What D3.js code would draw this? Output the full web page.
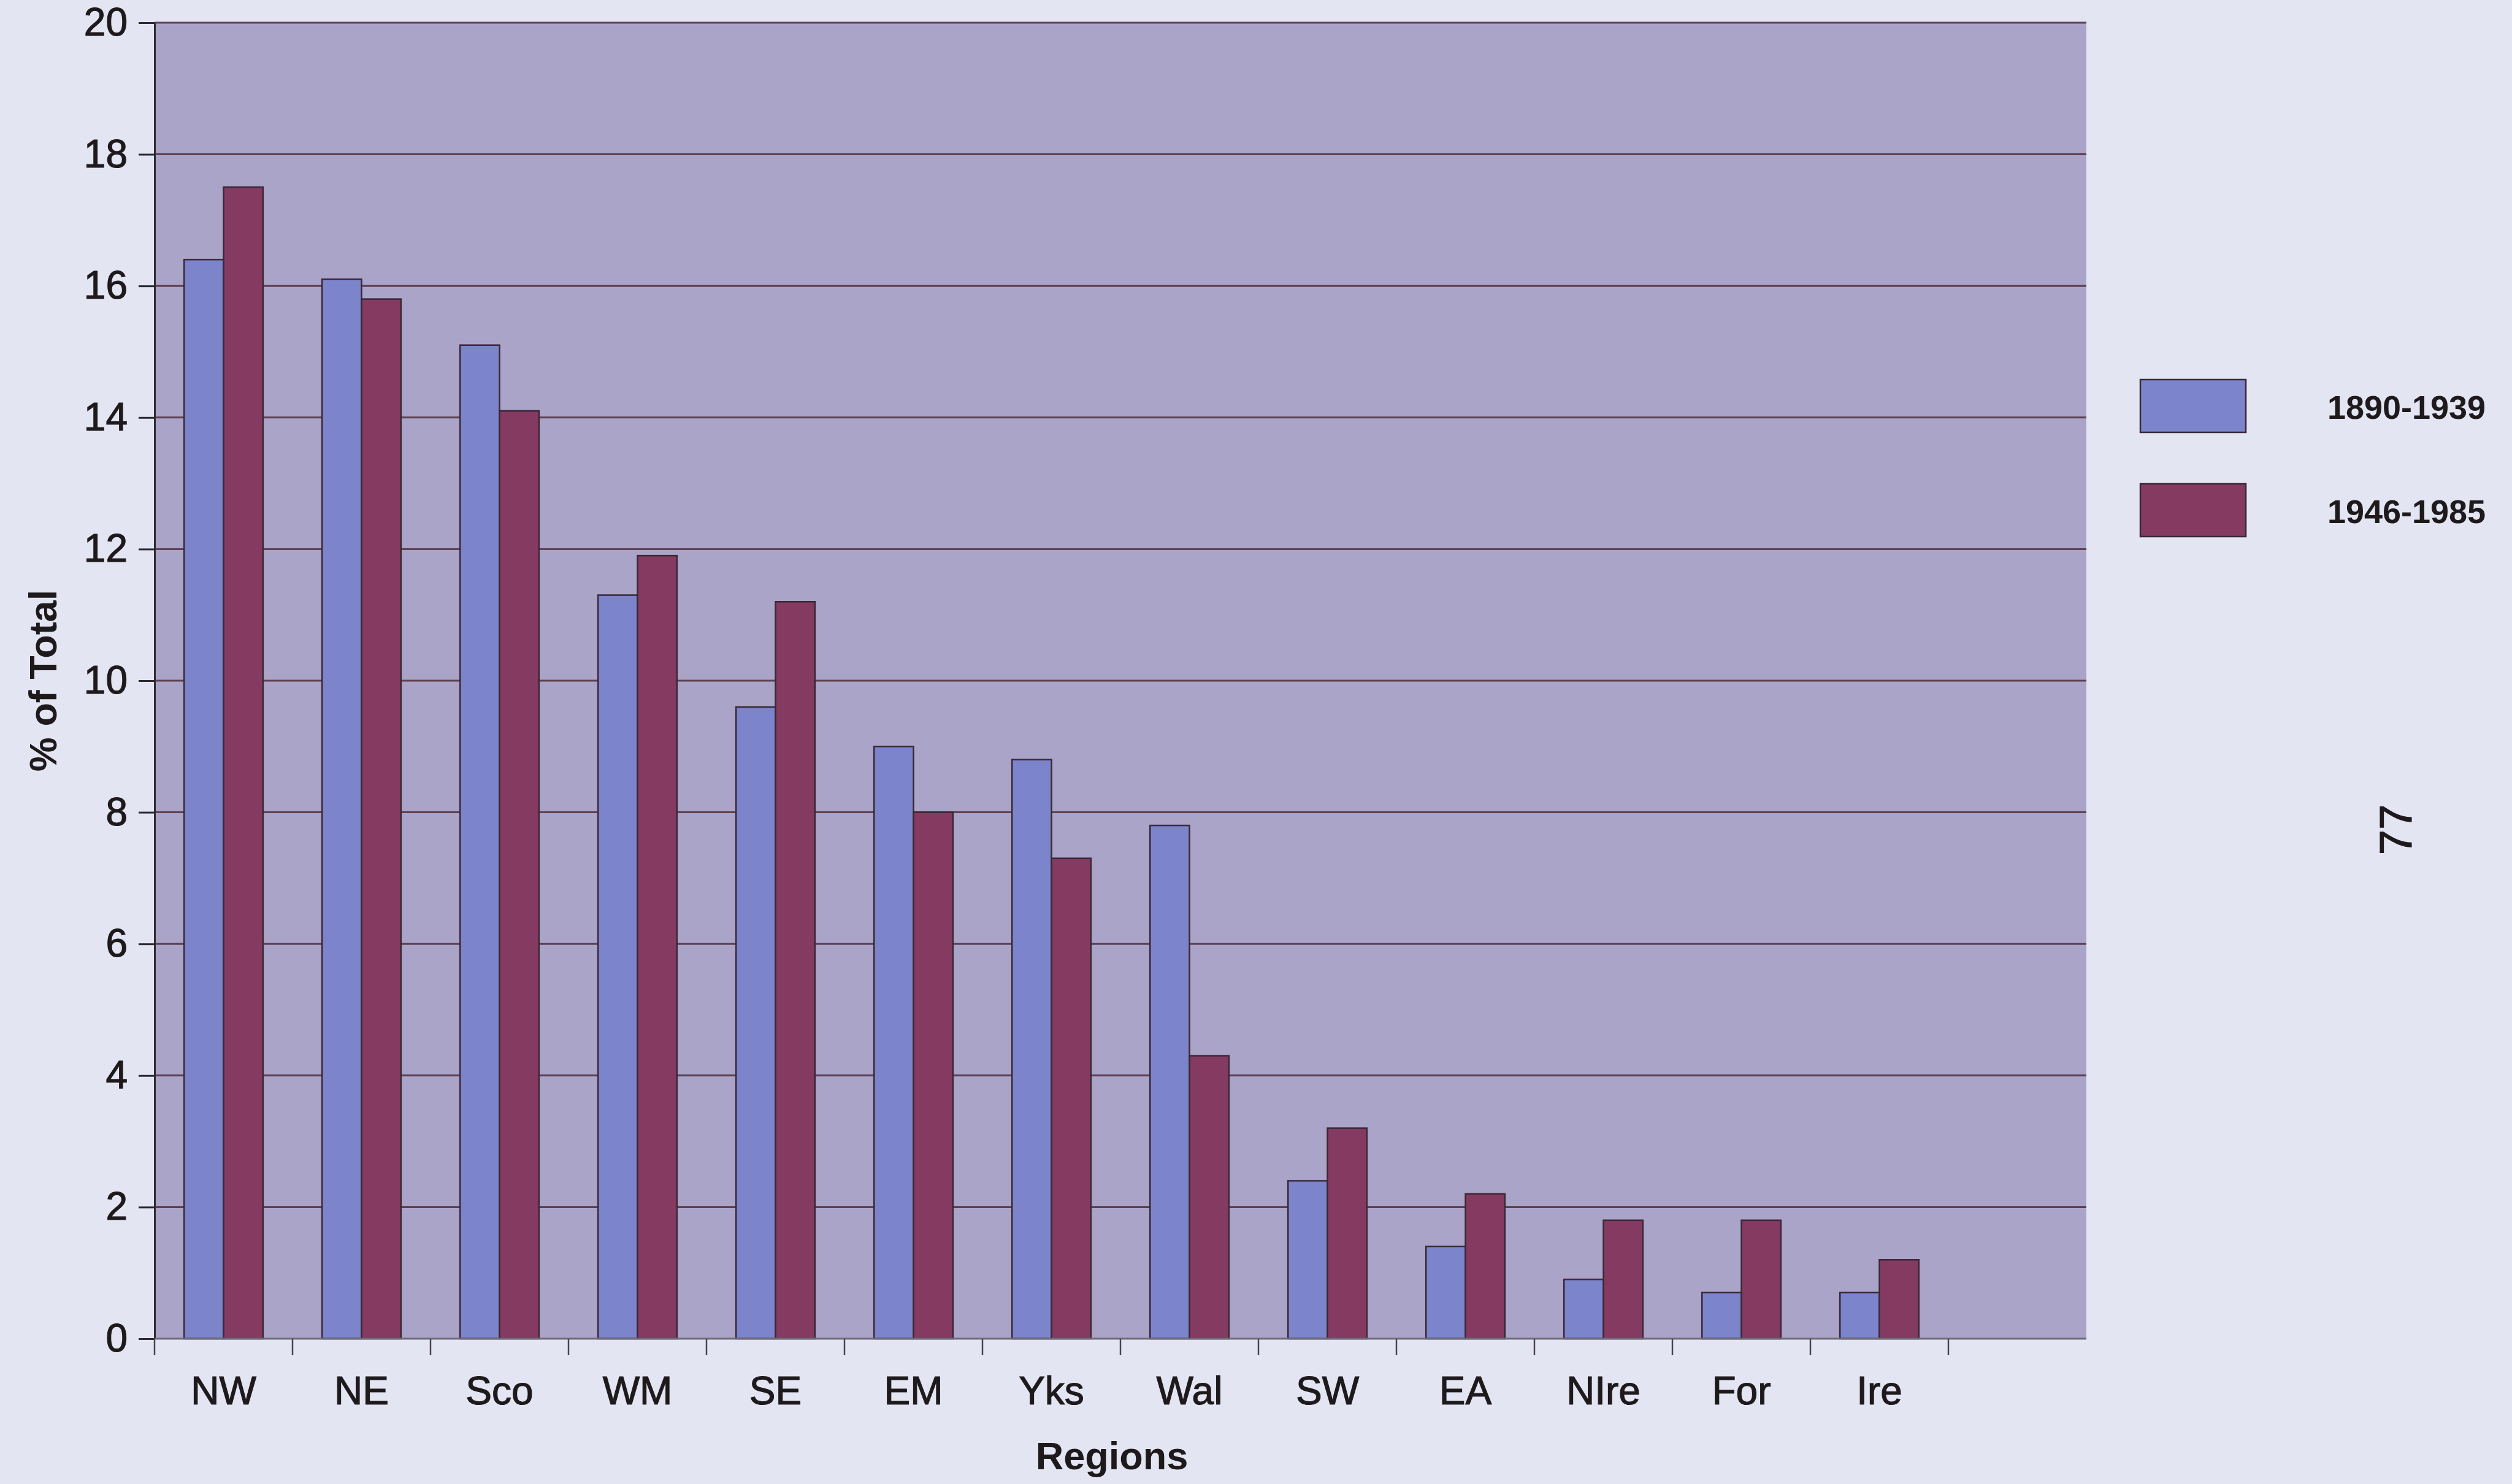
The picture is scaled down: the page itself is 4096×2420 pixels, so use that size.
<!DOCTYPE html>
<html>
<head>
<meta charset="utf-8">
<script src="https://cdn.jsdelivr.net/npm/d3@7"></script>
<style>
  html, body { margin: 0; padding: 0; background: #e3e5f3; }
  svg { display: block; }
  text { font-family: "Liberation Sans", Arial, sans-serif; fill: #1e1a1c; }
</style>
</head>
<body>
<svg id="chart" width="4096" height="2420"></svg>
<script>
// ---- data ----
const regions = ["NW", "NE", "Sco", "WM", "SE", "EM", "Yks", "Wal", "SW", "EA", "NIre", "For", "Ire"];
const seriesNames = ["1890-1939", "1946-1985"];
const values1890 = [16.4, 16.1, 15.1, 11.3, 9.6, 9.0, 8.8, 7.8, 2.4, 1.4, 0.9, 0.7, 0.7];
const values1946 = [17.5, 15.8, 14.1, 11.9, 11.2, 8.0, 7.3, 4.3, 3.2, 2.2, 1.8, 1.8, 1.2];
const yTicks = [0, 2, 4, 6, 8, 10, 12, 14, 16, 18, 20];
const seriesColors = ["#7c84cc", "#853a62"];
const pageNumber = "77";

// ---- layout ----
const plot = { left: 252, right: 3402, top: 37, bottom: 2183 };
const svg = d3.select("#chart");
const textStroke = t => t.attr("stroke", "#1e1a1c").attr("stroke-width", 1.2);

// category slots: 13 regions plus one empty slot at the end
const slots = regions.concat(["\u00a0"]);
const x = d3.scaleBand().domain(slots).range([plot.left, plot.right]).paddingInner(0).paddingOuter(0);
const xs = d3.scaleBand().domain(seriesNames).range([0, x.bandwidth()]).paddingInner(0).paddingOuter(0.75);
const y = d3.scaleLinear().domain([0, 20]).range([plot.bottom, plot.top]);

// plot area background
svg.append("rect")
  .attr("x", plot.left).attr("y", plot.top)
  .attr("width", plot.right - plot.left).attr("height", plot.bottom - plot.top)
  .attr("fill", "#aba4c9");

// gridlines
svg.append("g").selectAll("line").data(yTicks.filter(d => d > 0)).join("line")
  .attr("x1", plot.left).attr("x2", plot.right)
  .attr("y1", d => y(d)).attr("y2", d => y(d))
  .attr("stroke", "#5e4253").attr("stroke-width", 3);

// bars
const rows = regions.map((r, i) => ({ region: r, vals: [values1890[i], values1946[i]] }));
const groups = svg.append("g").selectAll("g").data(rows).join("g")
  .attr("transform", d => `translate(${x(d.region)},0)`);
groups.selectAll("rect").data(d => d.vals.map((v, j) => ({ v, s: seriesNames[j], j }))).join("rect")
  .attr("x", d => xs(d.s))
  .attr("width", xs.bandwidth())
  .attr("y", d => y(d.v))
  .attr("height", d => y(0) - y(d.v))
  .attr("fill", d => seriesColors[d.j])
  .attr("stroke", "#3a2835").attr("stroke-width", 2.5);

// y axis
const yAxis = svg.append("g")
  .attr("transform", `translate(${plot.left},0)`)
  .call(d3.axisLeft(y).tickValues(yTicks).tickSize(26).tickSizeOuter(0).tickPadding(18).tickFormat(d3.format("d")));
yAxis.select(".domain").attr("stroke", "#2e2a30").attr("stroke-width", 3);
yAxis.selectAll(".tick line").attr("stroke", "#2e2a30").attr("stroke-width", 3);
yAxis.selectAll(".tick text")
  .attr("font-size", 64).attr("fill", "#1e1a1c")
  .style("font-family", '"Liberation Sans", Arial, sans-serif')
  .call(textStroke);

// x axis baseline
svg.append("line")
  .attr("x1", plot.left).attr("x2", plot.right)
  .attr("y1", y(0)).attr("y2", y(0))
  .attr("stroke", "#6f6a78").attr("stroke-width", 3);

// x axis boundary ticks
const edges = slots.map(s => x(s));
svg.append("g").selectAll("line").data(edges).join("line")
  .attr("x1", d => d).attr("x2", d => d)
  .attr("y1", y(0)).attr("y2", y(0) + 27)
  .attr("stroke", "#4a4450").attr("stroke-width", 2.5);

// x axis labels
const xAxis = svg.append("g")
  .attr("transform", `translate(0,${plot.bottom})`)
  .call(d3.axisBottom(x).tickValues(regions).tickSize(0).tickPadding(62));
xAxis.select(".domain").remove();
xAxis.selectAll(".tick text")
  .attr("font-size", 64).attr("fill", "#1e1a1c")
  .style("font-family", '"Liberation Sans", Arial, sans-serif')
  .call(textStroke);

// axis titles
svg.append("text")
  .attr("x", (plot.left + plot.right) / 2 - 14).attr("y", 2396)
  .attr("text-anchor", "middle")
  .attr("font-size", 63).attr("font-weight", "bold")
  .text("Regions");

svg.append("text")
  .attr("transform", `translate(92,${(plot.top + plot.bottom) / 2}) rotate(-90)`)
  .attr("text-anchor", "middle")
  .attr("font-size", 63).attr("font-weight", "bold")
  .text("% of Total");

// legend
const legend = svg.append("g");
const legendY = d3.scalePoint().domain(seriesNames).range([619, 789]);
legend.selectAll("rect").data(seriesNames).join("rect")
  .attr("x", 3490).attr("y", d => legendY(d))
  .attr("width", 172).attr("height", 86)
  .attr("fill", (d, i) => seriesColors[i])
  .attr("stroke", "#3a2835").attr("stroke-width", 2.5);
legend.selectAll("text").data(seriesNames).join("text")
  .attr("x", 3924).attr("y", d => legendY(d) + 45)
  .attr("dy", "0.35em")
  .attr("text-anchor", "middle")
  .attr("font-size", 54).attr("font-weight", "bold")
  .text(d => d);

// page number (rotated)
svg.append("text")
  .attr("transform", "translate(3932,1353) rotate(-90)")
  .attr("text-anchor", "middle")
  .attr("font-size", 74)
  .call(textStroke)
  .text(pageNumber);
</script>
</body>
</html>
